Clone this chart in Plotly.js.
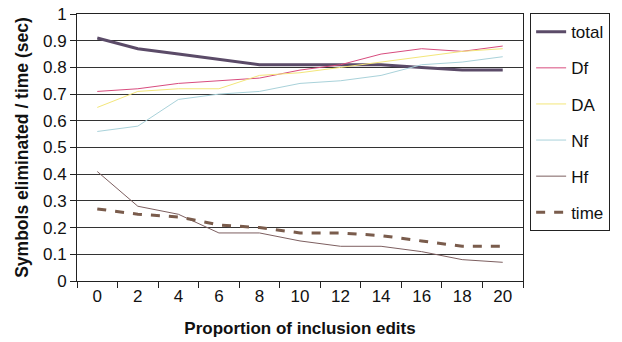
<!DOCTYPE html>
<html><head><meta charset="utf-8">
<script src="https://cdn.plot.ly/plotly-3.0.1.min.js"></script>
<style>body{margin:0;background:#fff}#c{width:622px;height:342px}</style>
</head><body><div id="c"></div>
<script>
const categories = ["0","2","4","6","8","10","12","14","16","18","20"];
const total = [0.91,0.87,0.85,0.83,0.81,0.81,0.81,0.81,0.80,0.79,0.79];
const Df    = [0.71,0.72,0.74,0.75,0.76,0.79,0.81,0.85,0.87,0.86,0.88];
const DA    = [0.65,0.71,0.72,0.72,0.77,0.78,0.80,0.82,0.84,0.86,0.87];
const Nf    = [0.56,0.58,0.68,0.70,0.71,0.74,0.75,0.77,0.81,0.82,0.84];
const Hf    = [0.41,0.28,0.25,0.18,0.18,0.15,0.13,0.13,0.11,0.08,0.07];
const time  = [0.27,0.25,0.24,0.21,0.20,0.18,0.18,0.17,0.15,0.13,0.13];

const mk = (name, y, color, width, dash, g) => ({
  x: categories, y: y, name: name, type: 'scatter', mode: 'lines',
  line: {color: color, width: width, dash: dash || 'solid'}, legendgroup: g
});
const data = [
  mk('total', total, '#5b4b68', 3, null, 'a'),
  mk('Df', Df, '#d84c7e', 1, null, 'b'),
  mk('DA', DA, '#f3e67a', 1, null, 'c'),
  mk('Nf', Nf, '#a9d2da', 1, null, 'd'),
  mk('Hf', Hf, '#7d5f60', 1, null, 'e'),
  mk('time', time, '#7a5c4c', 3, 'dash', 'f')
];
const layout = {
  width: 622, height: 342,
  margin: {l: 77, r: 97, t: 14, b: 61},
  paper_bgcolor: '#fff', plot_bgcolor: '#fff',
  font: {family: 'Liberation Sans, Arial, sans-serif', size: 17, color: '#111'},
  showlegend: true,
  legend: {x: 1.016, y: 1.003, xanchor: 'left', yanchor: 'top', maxheight: 1,
    bordercolor: '#222', borderwidth: 1, tracegroupgap: 11,
    font: {size: 17, color: '#111'}},
  xaxis: {type: 'category', range: [-0.5, 10.5], tickson: 'boundaries', ticks: 'outside', ticklen: 6,
    tickcolor: '#222', showgrid: false, showline: true, linecolor: '#222', mirror: true,
    title: {text: 'Proportion of inclusion edits', font: {size: 17, weight: 'bold'}, standoff: 16},
    zeroline: false},
  yaxis: {range: [0, 1], dtick: 0.1, ticks: 'outside', ticklen: 6, tickcolor: '#222',
    showgrid: true, gridcolor: '#333', gridwidth: 1, showline: true, linecolor: '#222',
    mirror: true, zeroline: false,
    title: {text: 'Symbols eliminated / time (sec)', font: {size: 17.5, weight: 'bold'}, standoff: 9}}
};
Plotly.newPlot('c', data, layout, {displayModeBar: false, staticPlot: true});
</script></body></html>
